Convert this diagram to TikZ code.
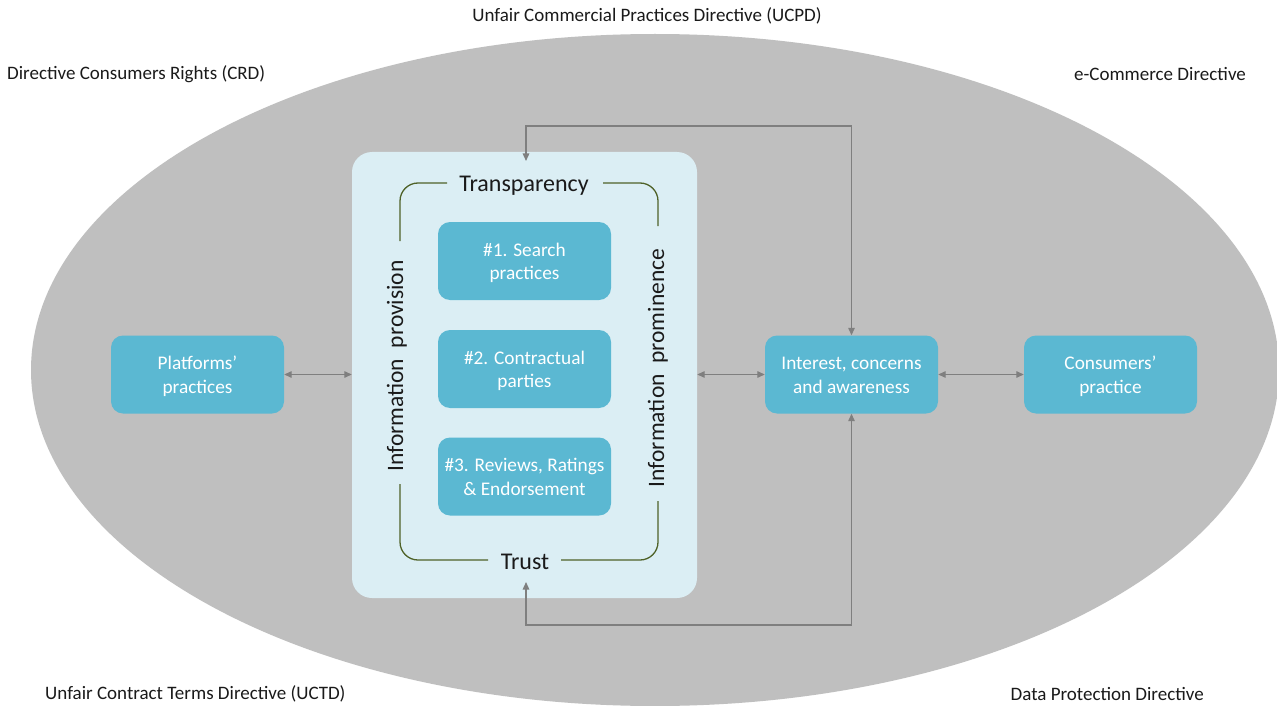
\documentclass[tikz,border=0pt]{standalone}
\usepackage{fontspec}
\setmainfont{Carlito}
\usetikzlibrary{arrows.meta}
\definecolor{ellgray}{HTML}{BFBFBF}
\definecolor{panelblue}{HTML}{DBEEF4}
\definecolor{boxblue}{HTML}{5BB8D2}
\definecolor{conngray}{HTML}{7F7F7F}
\definecolor{grn}{HTML}{4F6228}
\definecolor{txt}{HTML}{1A1A1A}
\newcommand\bxt[1]{\raisebox{-2.5pt}[\height][\depth]{\begin{tabular}{@{}c@{}}#1\end{tabular}}}
\tikzset{
  box/.style={fill=boxblue, draw=none, rounded corners=12pt, minimum width=173pt, minimum height=78pt,
    text=white, font=\fontsize{19.3}{23.5}\selectfont, inner sep=0pt},
  panel/.style={fill=panelblue, draw=none, rounded corners=20pt, minimum width=345pt, minimum height=446pt, inner sep=0pt},
  conn/.style={draw=conngray, line width=1.3pt, {Triangle[length=7.5pt,width=6.5pt]}-{Triangle[length=7.5pt,width=6.5pt]}},
  grnline/.style={draw=grn, line width=1.3pt, rounded corners=18pt},
  bigtxt/.style={text=txt, font=\fontsize{24}{28}\selectfont, inner sep=0pt},
  sidetxt/.style={text=txt, font=\fontsize{23.5}{28}\selectfont, inner sep=0pt},
  lbl/.style={text=txt, font=\fontsize{19}{22}\selectfont, inner sep=0pt},
}
\begin{document}
\begin{tikzpicture}[x=1pt,y=-1pt]
\useasboundingbox (0,0) rectangle (1277,706);
\fill[white] (0,0) rectangle (1277,706);
\begin{scope}
\clip (0,0) rectangle (1277,706);
\fill[ellgray] (655,370) ellipse [x radius=624, y radius=336];
\end{scope}
% labels
\node[lbl] (ucpd) at (647,16) {Unfair Commercial Practices Directive (UCPD)};
\node[lbl, anchor=west] (crd) at (7,74.5) {Directive Consumers Rights (CRD)};
\node[lbl, anchor=east] (ecd) at (1246,74.5) {e-Commerce Directive};
\node[lbl, anchor=west] (uctd) at (45,694) {Unfair Contract Terms Directive (UCTD)};
\node[lbl, anchor=east] (dpd) at (1204,694) {Data Protection Directive};
% panel
\node[panel] (panel) at (524.5,375) {};
\node[box] (s1) at (524.5,261) {\bxt{\#1. Search\\practices}};
\node[box] (s2) at (524.5,369) {\bxt{\#2. Contractual\\parties}};
\node[box] (s3) at (524.5,476.5) {\bxt{\#3. Reviews, Ratings\\\& Endorsement}};
% green frame
\draw[grnline] (447,183) -- (400,183) -- (400,241);
\draw[grnline] (603,183) -- (658,183) -- (658,226);
\draw[grnline] (400,484) -- (400,560) -- (488,560);
\draw[grnline] (561,560) -- (658,560) -- (658,501);
\node[bigtxt] (transp) at (524,185.5) {Transparency};
\node[bigtxt] (trust) at (525,562) {Trust};
\node[sidetxt, rotate=90] (iprov) at (397,366) {Information\ \ provision};
\node[sidetxt, rotate=90] (iprom) at (658,368) {Information\ \ prominence};
% side boxes
\node[box] (plat) at (197.5,374.5) {\bxt{Platforms’\\practices}};
\node[box] (int) at (851.5,374.5) {\bxt{Interest, concerns\\and awareness}};
\node[box] (cons) at (1110.5,374.5) {\bxt{Consumers’\\practice}};
% connectors
\coordinate (ptop) at (526,161);
\coordinate (pbot) at (526,582);
\coordinate (topy) at (0,126);
\coordinate (boty) at (0,625);
\draw[conn] (plat.east) -- (plat.east -| panel.west);
\draw[conn] (int.west -| panel.east) -- (int.west);
\draw[conn] (int.east) -- (cons.west);
\draw[conn] (int.north) -- (int.north |- topy) -| (ptop);
\draw[conn] (int.south) -- (int.south |- boty) -| (pbot);
\end{tikzpicture}
\end{document}
